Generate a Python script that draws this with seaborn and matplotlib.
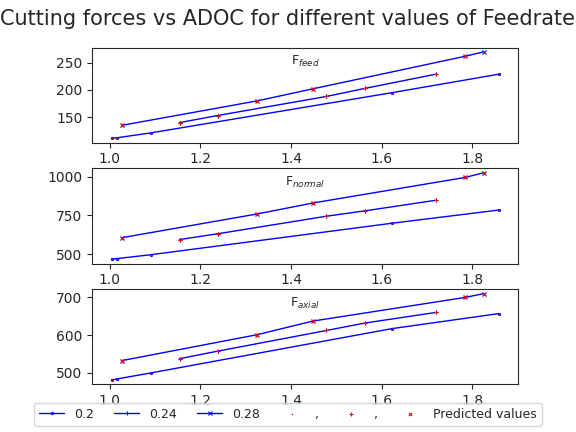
import matplotlib
matplotlib.use("Agg")
import matplotlib.pyplot as plt
import seaborn as sns
import pandas as pd

x02 = [1.004, 1.015, 1.09, 1.623, 1.859]
x024 = [1.154, 1.238, 1.478, 1.564, 1.72]
x028 = [1.027, 1.326, 1.448, 1.785, 1.825]

feed02 = [111, 112, 121, 195, 229]
feed024 = [140, 153, 188, 203, 229]
feed028 = [135, 180, 202, 262, 270]
normal02 = [468, 472, 497, 700, 785]
normal024 = [595, 632, 745, 780, 848]
normal028 = [607, 760, 830, 995, 1025]
axial02 = [480, 483, 499, 617, 657]
axial024 = [537, 557, 612, 632, 660]
axial028 = [532, 601, 637, 700, 710]

titles = ["F$_{feed}$", "F$_{normal}$", "F$_{axial}$"]
data = [(feed02, feed024, feed028), (normal02, normal024, normal028), (axial02, axial024, axial028)]
xs = [x02, x024, x028]
labels = ["0.2", "0.24", "0.28"]
markers = [".", "+", "x"]
pred_labels = [",", ",", "Predicted values"]

sns.set_style("ticks")
plt.rcParams['font.family'] = ['DejaVu Sans']
fig, axes = plt.subplots(3, 1, figsize=(5.76, 4.32), dpi=100)
for ax, title, ys in zip(axes, titles, data):
    for x, y, lab, m in zip(xs, ys, labels, markers):
        df = pd.DataFrame({"x": x, "y": y})
        sns.lineplot(data=df, x="x", y="y", ax=ax, color="blue", marker=m, markersize=3,
                     markeredgecolor="blue", linewidth=1, label=lab, legend=False)
    for x, y, lab, m in zip(xs, ys, pred_labels, markers):
        df = pd.DataFrame({"x": x, "y": y})
        sns.scatterplot(data=df, x="x", y="y", ax=ax, color="red", marker=m, s=5,
                        linewidth=0.8 if m != "." else 0, edgecolor="red", label=lab, legend=False, zorder=5)
    ax.text(0.5, 0.85, title, transform=ax.transAxes, ha="center", va="center", fontsize=9)
    ax.set_xlabel("")
    ax.set_ylabel("")
    ax.set_xticks([1.0, 1.2, 1.4, 1.6, 1.8])
axes[0].set_yticks([150, 200, 250])
axes[1].set_yticks([500, 750, 1000])
axes[2].set_yticks([500, 600, 700])
fig.suptitle("Cutting forces vs ADOC for different values of Feedrate", fontsize=15)
h, l = axes[0].get_legend_handles_labels()
fig.legend(h, l, loc="lower center", ncol=6, fontsize=9, bbox_to_anchor=(0.5, 0.0),
           handlelength=2, columnspacing=1.6)
fig.subplots_adjust(left=0.16, right=0.9, top=0.89, bottom=0.11, hspace=0.27)
fig.savefig("out.png", dpi=100)
